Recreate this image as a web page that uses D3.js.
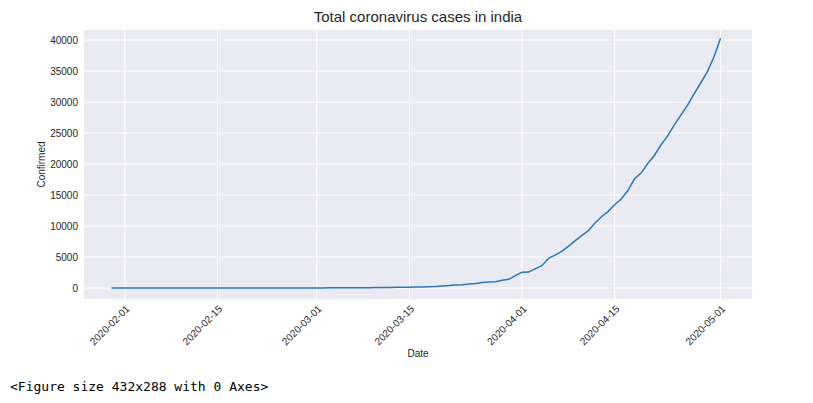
<!DOCTYPE html>
<html><head><meta charset="utf-8">
<script src="https://cdn.jsdelivr.net/npm/d3@7"></script>
<style>body{margin:0;background:#fff;font-family:"Liberation Sans",Arial,sans-serif}</style>
</head><body><div id="chart"></div>
<script>
// cumulative confirmed cases, one per day from 2020-01-30
const startDate = "2020-01-30";
const confirmed = [1,1,1,2,3,3,3,3,3,3,3,3,3,3,3,3,3,3,3,3,3,3,3,3,3,3,3,3,3,3,3,
  5,5,28,30,31,34,39,43,56,62,73,82,102,113,119,142,156,194,244,330,396,499,536,657,727,887,987,1024,1251,1397,
  1998,2543,2567,3082,3588,4778,5311,5916,6725,7598,8446,9205,10453,11487,12322,13430,14352,15722,17615,18539,20080,21370,23077,24530,26283,27890,29451,31324,33062,34863,37257,40263];
const xTickLabels = ["2020-02-01","2020-02-15","2020-03-01","2020-03-15","2020-04-01","2020-04-15","2020-05-01"];
const yTicks = [0,5000,10000,15000,20000,25000,30000,35000,40000];

const parse = d3.utcParse("%Y-%m-%d");
const t0 = parse(startDate);
const data = confirmed.map((v,i) => ({date: d3.utcDay.offset(t0, i), value: v}));

const W = 813, H = 403;
const m = {left: 84, right: 61, top: 30, bottom: 104};
const svg = d3.select("#chart").append("svg").attr("width", W).attr("height", H);

const x = d3.scaleUtc()
  .domain([d3.utcHour.offset(t0, -100), d3.utcHour.offset(data[data.length-1].date, 114)])
  .range([m.left, W - m.right]);
const y = d3.scaleLinear().domain([-1774, 41613]).range([H - m.bottom, m.top]);

svg.append("rect").attr("x", m.left).attr("y", m.top)
  .attr("width", W - m.left - m.right).attr("height", H - m.top - m.bottom).attr("fill", "#EAEAF2");

const xt = xTickLabels.map(parse);
svg.append("g").selectAll("line").data(xt).enter().append("line")
  .attr("x1", d => x(d)).attr("x2", d => x(d)).attr("y1", m.top).attr("y2", H - m.bottom)
  .attr("stroke", "#fff").attr("stroke-width", 1);
svg.append("g").selectAll("line").data(yTicks).enter().append("line")
  .attr("x1", m.left).attr("x2", W - m.right).attr("y1", d => y(d)).attr("y2", d => y(d))
  .attr("stroke", "#fff").attr("stroke-width", 1);

svg.append("g").selectAll("text").data(yTicks).enter().append("text")
  .attr("x", m.left - 6).attr("y", d => y(d)).attr("dy", "0.35em")
  .attr("text-anchor", "end").attr("font-size", 10).attr("fill", "#262626").text(d => d);

svg.append("g").selectAll("text").data(xt).enter().append("text")
  .attr("transform", d => `translate(${x(d)+3},${H - m.bottom + 8}) rotate(-45)`)
  .attr("text-anchor", "end").attr("dy", "0.35em")
  .attr("font-size", 10).attr("fill", "#262626").text(d => d3.utcFormat("%Y-%m-%d")(d));

const line = d3.line().x(d => x(d.date)).y(d => y(d.value));
svg.append("path").datum(data).attr("d", line)
  .attr("fill", "none").attr("stroke", "#2a77b4").attr("stroke-width", 1.5);

svg.append("text").attr("x", (m.left + W - m.right)/2).attr("y", 22)
  .attr("text-anchor", "middle").attr("font-size", 15).attr("fill", "#262626")
  .text("Total coronavirus cases in india");
svg.append("text").attr("x", (m.left + W - m.right)/2).attr("y", 357)
  .attr("text-anchor", "middle").attr("font-size", 10).attr("fill", "#262626").text("Date");
svg.append("text").attr("transform", `translate(45,${(m.top + H - m.bottom)/2}) rotate(-90)`)
  .attr("text-anchor", "middle").attr("font-size", 10).attr("fill", "#262626").text("Confirmed");

svg.append("text").attr("x", 10).attr("y", 391)
  .attr("font-family", "'DejaVu Sans Mono', monospace").attr("font-size", 13).attr("fill", "#000")
  .text("<Figure size 432x288 with 0 Axes>");
</script></body></html>
